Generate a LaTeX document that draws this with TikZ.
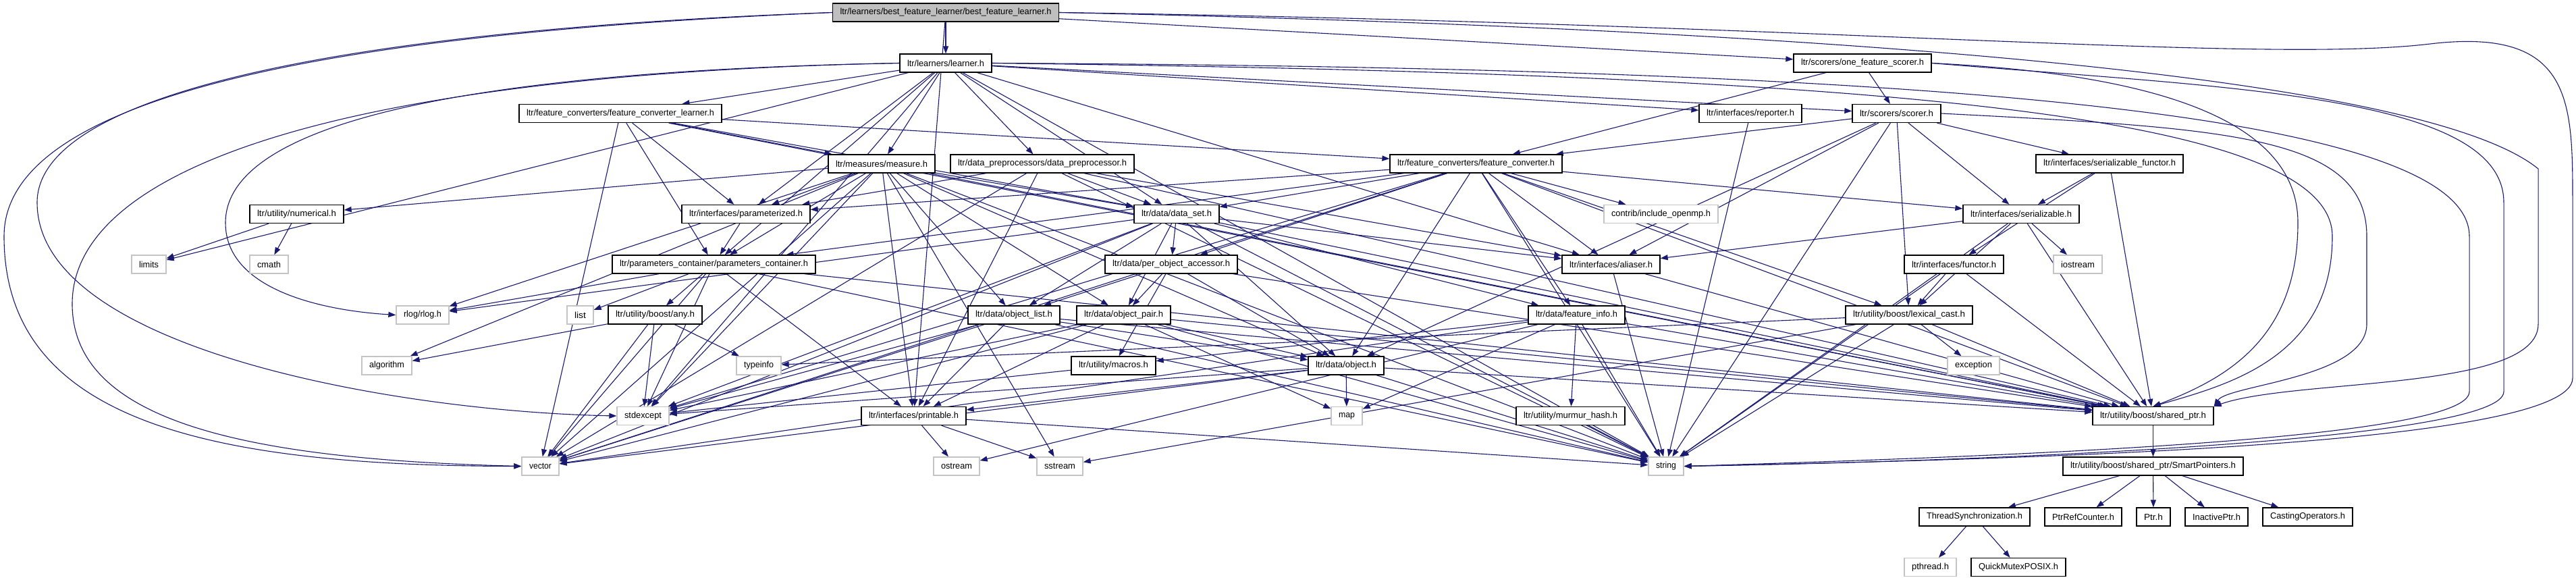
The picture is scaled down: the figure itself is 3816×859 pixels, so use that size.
\documentclass[tikz,border=0pt]{standalone}
\usepackage{fontspec}
\setmainfont{Liberation Sans}
\usepackage{graphicx}
\usetikzlibrary{arrows.meta}
\definecolor{edgeblue}{HTML}{191970}
\definecolor{rootgray}{HTML}{BFBFBF}
\definecolor{extgray}{HTML}{C4C4C4}
\newsavebox\lblbox
\newcommand\fitw[2]{\sbox\lblbox{\fontsize{13}{15}\selectfont #2}\pgfmathsetmacro\lblr{(#1)/\the\wd\lblbox}\scalebox{\lblr}[1]{\usebox\lblbox}}
\newcommand\nd[6]{\node[#1, minimum width=#5pt] (#2) at (#3,#4) {\fitw{#5-22}{#6}};}
\pgfdeclarelayer{edgelayer}
\pgfsetlayers{edgelayer,main}
\begin{document}
\begin{tikzpicture}[x=1pt,y=-1pt,
  hdr/.style={draw=black, fill=white, line width=1.3pt, minimum height=27pt, inner sep=0pt},
  roothdr/.style={hdr, fill=rootgray},
  ext/.style={draw=extgray, fill=white, line width=1.3pt, minimum height=27pt, inner sep=0pt},
  dep/.style={draw=edgeblue, line width=1.1pt, -{Triangle[length=11pt,width=8pt]}}]
\useasboundingbox (0,0) rectangle (3816,859);
% row 1
\nd{roothdr}{root}{1401}{18.5}{335}{ltr/learners/best\_feature\_learner/best\_feature\_learner.h}
% row 2
\nd{hdr}{lrn}{1401}{93.5}{136}{ltr/learners/learner.h}
\nd{hdr}{ofs}{2759}{93.5}{204}{ltr/scorers/one\_feature\_scorer.h}
% row 3
\nd{hdr}{fcl}{919}{168}{300}{ltr/feature\_converters/feature\_converter\_learner.h}
\nd{hdr}{rep}{2593}{168}{152}{ltr/interfaces/reporter.h}
\nd{hdr}{sc}{2809.5}{168}{131}{ltr/scorers/scorer.h}
% row 4
\nd{hdr}{meas}{1306}{242.5}{158}{ltr/measures/measure.h}
\nd{hdr}{dpp}{1544}{242.5}{272}{ltr/data\_preprocessors/data\_preprocessor.h}
\nd{hdr}{fc}{2186.5}{242.5}{255}{ltr/feature\_converters/feature\_converter.h}
\nd{hdr}{sfun}{3125}{242.5}{218}{ltr/interfaces/serializable\_functor.h}
% row 5
\nd{hdr}{num}{439.5}{317}{139}{ltr/utility/numerical.h}
\nd{hdr}{param}{1105}{317}{190}{ltr/interfaces/parameterized.h}
\nd{hdr}{ds}{1743}{317}{126}{ltr/data/data\_set.h}
\nd{ext}{omp}{2460.5}{317}{169}{contrib/include\_openmp.h}
\nd{hdr}{ser}{2994}{317}{172}{ltr/interfaces/serializable.h}
% row 6
\nd{ext}{limits}{220.5}{391.5}{51}{limits}
\nd{ext}{cmath}{398.5}{391.5}{57}{cmath}
\nd{hdr}{pc}{1057.5}{391.5}{301}{ltr/parameters\_container/parameters\_container.h}
\nd{hdr}{poa}{1735}{391.5}{196}{ltr/data/per\_object\_accessor.h}
\nd{hdr}{al}{2386.5}{391.5}{145}{ltr/interfaces/aliaser.h}
\nd{hdr}{fun}{2894.5}{391.5}{147}{ltr/interfaces/functor.h}
\nd{ext}{ios}{3078}{391.5}{72}{iostream}
% row 7
\nd{ext}{rlog}{626}{466.5}{78}{rlog/rlog.h}
\nd{ext}{list}{859.5}{466.5}{39}{list}
\nd{hdr}{any}{970.5}{466.5}{139}{ltr/utility/boost/any.h}
\nd{hdr}{ol}{1502}{466.5}{136}{ltr/data/object\_list.h}
\nd{hdr}{op}{1664.5}{466.5}{139}{ltr/data/object\_pair.h}
\nd{hdr}{fi}{2335.5}{466.5}{143}{ltr/data/feature\_info.h}
\nd{hdr}{lc}{2828}{466.5}{188}{ltr/utility/boost/lexical\_cast.h}
% row 8
\nd{ext}{algo}{573}{541.5}{74}{algorithm}
\nd{ext}{ti}{1124}{541.5}{66}{typeinfo}
\nd{hdr}{mac}{1649.5}{541.5}{125}{ltr/utility/macros.h}
\nd{hdr}{obj}{1994}{541.5}{112}{ltr/data/object.h}
\nd{ext}{exc}{2923.5}{541.5}{77}{exception}
% row 9
\nd{ext}{stdx}{952.5}{616}{77}{stdexcept}
\nd{hdr}{pr}{1353.5}{616}{155}{ltr/interfaces/printable.h}
\nd{ext}{map}{1995}{616}{46}{map}
\nd{hdr}{mm}{2326.5}{616}{161}{ltr/utility/murmur\_hash.h}
\nd{hdr}{sp}{3189.5}{616}{179}{ltr/utility/boost/shared\_ptr.h}
% row 10
\nd{ext}{vec}{800.5}{690.5}{55}{vector}
\nd{ext}{ostr}{1417}{690.5}{68}{ostream}
\nd{ext}{sstr}{1570}{690.5}{68}{sstream}
\nd{ext}{str}{2468}{690.5}{52}{string}
\nd{hdr}{smp}{3189.5}{690.5}{267}{ltr/utility/boost/shared\_ptr/SmartPointers.h}
% row 11
\nd{hdr}{ts}{2925}{765.5}{164}{ThreadSynchronization.h}
\nd{hdr}{prc}{3086}{765.5}{114}{PtrRefCounter.h}
\nd{hdr}{ptr}{3190}{765.5}{50}{Ptr.h}
\nd{hdr}{iptr}{3283.5}{765.5}{93}{InactivePtr.h}
\nd{hdr}{cast}{3418.5}{765.5}{133}{CastingOperators.h}
% row 12
\nd{ext}{pth}{2859.5}{840}{77}{pthread.h}
\nd{hdr}{qm}{2990}{840}{140}{QuickMutexPOSIX.h}

\begin{pgfonlayer}{edgelayer}
\fill[white] (0,0) rectangle (3816,859);
\foreach \a/\b in {root/lrn, root/ofs, root/pr,
  lrn/fcl, lrn/meas, lrn/dpp, lrn/rep, lrn/sc, lrn/param, lrn/pc, lrn/ds, lrn/al, lrn/limits, lrn/stdx, lrn/str,
  fcl/meas, fcl/fc, fcl/param, fcl/pc, fcl/ds, fcl/vec, fcl/sp,
  ofs/sc, ofs/fc, sc/fc, sc/sfun, sc/ser, sc/al, sc/obj, sc/lc, sc/str, rep/str,
  meas/num, meas/param, meas/pc, meas/ds, meas/ol, meas/op, meas/obj, meas/pr, meas/rlog, meas/algo, meas/vec, meas/stdx, meas/str, meas/sp, meas/sstr,
  dpp/param, dpp/ds, dpp/al, dpp/pr, dpp/sp, dpp/str, dpp/vec,
  fc/param, fc/pc, fc/ds, fc/poa, fc/obj, fc/fi, fc/al, fc/omp, fc/ser, fc/lc, fc/str, fc/sp, fc/vec, fc/stdx,
  sfun/ser, sfun/fun, sfun/sp, num/limits, num/cmath, param/pc,
  ds/poa, ds/ol, ds/op, ds/obj, ds/fi, ds/al, ds/rlog, ds/vec, ds/str, ds/sp, ds/stdx,
  ser/al, ser/ios, ser/lc, ser/str, ser/sp,
  pc/any, pc/list, pc/rlog, pc/stdx, pc/vec, pc/str, pc/pr, pc/sp,
  poa/ol, poa/op, poa/obj, poa/mac, poa/sp, al/str, al/sp, fun/lc, fun/str, fun/sp,
  any/algo, any/ti, any/stdx, any/vec,
  ol/obj, ol/pr, ol/vec, ol/stdx, ol/str, ol/sp,
  op/obj, op/pr, op/map, op/vec, op/stdx, op/str, op/sp,
  fi/mm, fi/mac, fi/map, fi/str, fi/vec, fi/sp, fi/ostr,
  lc/exc, lc/ti, lc/sstr, lc/str, lc/sp,
  obj/map, obj/pr, obj/str, obj/vec, obj/sp, obj/stdx,
  mac/stdx, mm/str, pr/ostr, pr/sstr, pr/str,
  sp/smp, smp/ts, smp/prc, smp/ptr, smp/iptr, smp/cast, ts/pth, ts/qm}
  \draw[dep] (\a) -- (\b);
% long routed edges
\draw[dep] (root.east) .. controls (2700,35) and (3350,95) .. (3600,65) .. controls (3811,40) and (3811,150) .. (3811,300) -- (3811,560) .. controls (3811,660) and (3000,680) .. (str.east);
\draw[dep] (root.east) .. controls (2800,45) and (3600,120) .. (3760,250) -- (3760,480) .. controls (3760,580) and (3400,560) .. (sp.north east);
\draw[dep] (ofs.east) .. controls (3300,130) and (3709,140) .. (3709,300) -- (3709,580) .. controls (3709,650) and (3000,682) .. (str.east);
\draw[dep] (ofs.east) .. controls (3200,110) and (3404,180) .. (3404,330) .. controls (3404,500) and (3300,560) .. (sp.north);
\draw[dep] (sc.east) .. controls (3300,190) and (3506,200) .. (3506,350) -- (3506,480) .. controls (3506,560) and (3300,570) .. (sp.north east);
\draw[dep] (lrn.east) .. controls (2800,100) and (3658,160) .. (3658,350) -- (3658,580) .. controls (3658,650) and (3000,675) .. (str.east);
\draw[dep] (lrn.east) .. controls (2800,110) and (3455,170) .. (3455,350) .. controls (3455,530) and (3300,570) .. (sp.north);
\draw[dep] (lrn.west) .. controls (700,105) and (334,180) .. (334,330) .. controls (334,430) and (480,460) .. (rlog.west);
\draw[dep] (lrn.west) .. controls (500,110) and (107,250) .. (107,450) .. controls (107,620) and (350,680) .. (vec.west);
\draw[dep] (root.west) .. controls (600,45) and (6,120) .. (6,350) .. controls (6,620) and (300,690) .. (vec.west);
\draw[dep] (root.west) .. controls (500,45) and (55,140) .. (55,300) .. controls (55,520) and (600,610) .. (stdx.west);
\end{pgfonlayer}
\end{tikzpicture}
\end{document}
